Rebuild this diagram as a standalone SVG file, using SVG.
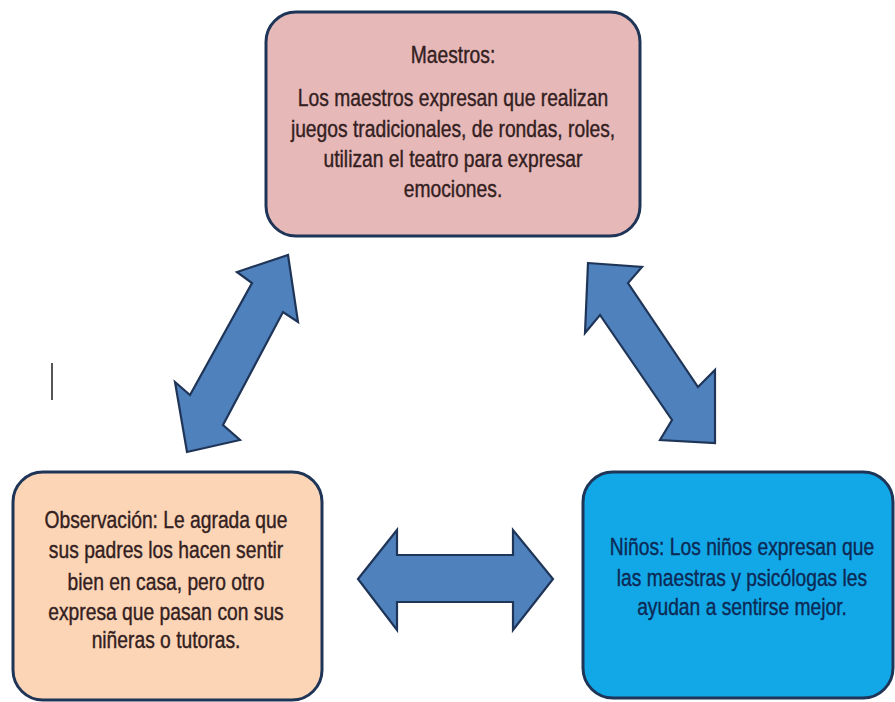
<svg xmlns="http://www.w3.org/2000/svg" width="895" height="702" viewBox="0 0 895 702">
<style>
.box{stroke:#1f3558;stroke-width:3}
.arrow{fill:#4f81bd;stroke:#1f3558;stroke-width:2.2;stroke-linejoin:miter}
.t{font-family:"Liberation Sans",Arial,sans-serif;font-size:23.5px;text-anchor:middle;stroke-width:0.4}
.dark{fill:#33201f;stroke:#33201f}
.navy{fill:#0c2a55;stroke:#0c2a55}
</style>
<rect width="895" height="702" fill="#ffffff"/>
<g id="maestros">
<rect class="box" x="266" y="12" width="374" height="224" rx="30" fill="#e6b8b7"/>
<g transform="translate(453,0) scale(0.82,1)">
<text class="t dark" x="0" y="63">Maestros:</text>
<text class="t dark" x="0" y="106">Los maestros expresan que realizan</text>
<text class="t dark" x="0" y="137">juegos tradicionales, de rondas, roles,</text>
<text class="t dark" x="0" y="167">utilizan el teatro para expresar</text>
<text class="t dark" x="0" y="197">emociones.</text>
</g>
</g>
<g id="observacion">
<rect class="box" x="13" y="472" width="309" height="228" rx="30" fill="#fbd5b5"/>
<g transform="translate(166,0) scale(0.82,1)">
<text class="t dark" x="0" y="528">Observación: Le agrada que</text>
<text class="t dark" x="0" y="558">sus padres los hacen sentir</text>
<text class="t dark" x="0" y="590">bien en casa, pero otro</text>
<text class="t dark" x="0" y="620">expresa que pasan con sus</text>
<text class="t dark" x="0" y="648">niñeras o tutoras.</text>
</g>
</g>
<g id="ninos">
<rect class="box" x="583" y="472" width="310" height="226" rx="30" fill="#12a8e8"/>
<g transform="translate(742,0) scale(0.82,1)">
<text class="t navy" x="0" y="555">Niños: Los niños expresan que</text>
<text class="t navy" x="0" y="586">las maestras y psicólogas les</text>
<text class="t navy" x="0" y="615">ayudan a sentirse mejor.</text>
</g>
</g>
<g id="connectors">
<polygon class="arrow" points="288,255 298,322 283,312 223,425 240,440 187,452 175,382 190,395 252,283 237,272"/>
<polygon class="arrow" points="588,263 642,267 628,283 698,387 715,370 715,443 660,440 672,420 600,315 585,333"/>
<polygon class="arrow" points="358,579 397,530 397,555 513,555 513,530 553,579 513,630 513,602 397,602 397,630"/>
</g>
<line x1="52" y1="363" x2="52" y2="400" stroke="#555555" stroke-width="2"/>
</svg>
